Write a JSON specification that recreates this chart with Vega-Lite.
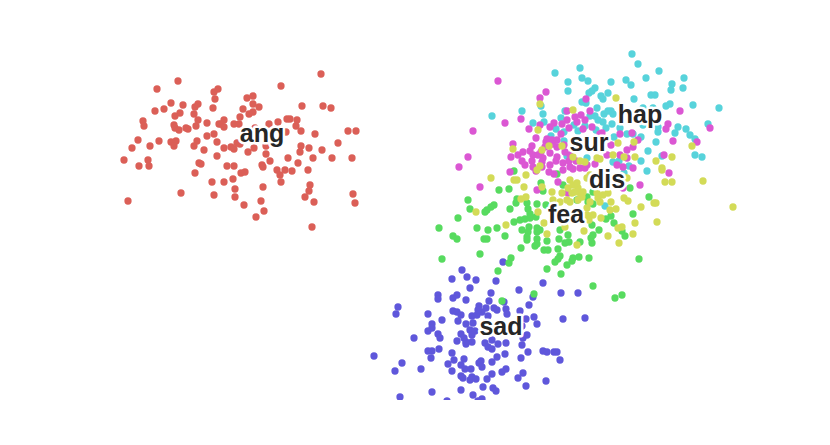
{"$schema":"https://vega.github.io/schema/vega-lite/v6.json","width":830,"height":400,"padding":0,"autosize":"none","background":"white","config":{"view":{"stroke":null}},
"datasets":{"labels":[{"e":"ang","x":26.2,"y":26.6},{"e":"hap","x":64.0,"y":28.5},{"e":"sur","x":58.9,"y":25.7},{"e":"dis","x":60.7,"y":22.0},{"e":"fea","x":56.6,"y":18.5},{"e":"sad","x":50.1,"y":7.3}],
"points":[
{"e":"sad","x":50.3,"y":13.8},{"e":"sad","x":46.2,"y":13},{"e":"sad","x":46.7,"y":12.3},{"e":"sad","x":45.2,"y":12.1},{"e":"sad","x":47.6,"y":12},{"e":"sad","x":49.6,"y":11.9},{"e":"sad","x":54.3,"y":11.7},{"e":"sad","x":47,"y":11.2},{"e":"sad","x":51.9,"y":11},{"e":"sad","x":49.1,"y":10.7},{"e":"sad","x":43.8,"y":10.5},{"e":"sad","x":43.8,"y":10.1},{"e":"sad","x":45.3,"y":10.2},{"e":"sad","x":45.7,"y":10.5},{"e":"sad","x":46.6,"y":10},{"e":"sad","x":48.9,"y":9.9},{"e":"sad","x":50.4,"y":9.8},{"e":"sad","x":53.3,"y":10.3},{"e":"sad","x":56.1,"y":10.7},{"e":"sad","x":57.8,"y":10.7},{"e":"sad","x":52.9,"y":9.5},{"e":"sad","x":39.8,"y":9.3},{"e":"sad","x":39.6,"y":8.6},{"e":"sad","x":42.8,"y":8.6},{"e":"sad","x":45.3,"y":8.9},{"e":"sad","x":45.7,"y":8.8},{"e":"sad","x":46.1,"y":8.5},{"e":"sad","x":47.9,"y":9.4},{"e":"sad","x":48.6,"y":9.2},{"e":"sad","x":49.4,"y":9.2},{"e":"sad","x":49.7,"y":9},{"e":"sad","x":50.6,"y":9.1},{"e":"sad","x":50.7,"y":8.6},{"e":"sad","x":52,"y":8.9},{"e":"sad","x":47.2,"y":8.4},{"e":"sad","x":47.7,"y":8.5},{"e":"sad","x":48.2,"y":8.8},{"e":"sad","x":47.8,"y":9},{"e":"sad","x":48.8,"y":8.4},{"e":"sad","x":44.2,"y":8},{"e":"sad","x":45.8,"y":7.9},{"e":"sad","x":46.6,"y":7.6},{"e":"sad","x":47.3,"y":7.7},{"e":"sad","x":52.6,"y":8.1},{"e":"sad","x":53.4,"y":8.3},{"e":"sad","x":53.7,"y":7.6},{"e":"sad","x":56.3,"y":8.1},{"e":"sad","x":58.5,"y":8.2},{"e":"sad","x":43.2,"y":7.6},{"e":"sad","x":43.2,"y":7.2},{"e":"sad","x":42.8,"y":6.9},{"e":"sad","x":43.8,"y":6.6},{"e":"sad","x":44,"y":6.2},{"e":"sad","x":41.4,"y":6.2},{"e":"sad","x":46.1,"y":6.6},{"e":"sad","x":46.4,"y":6.2},{"e":"sad","x":47,"y":7},{"e":"sad","x":47.5,"y":6.9},{"e":"sad","x":47.2,"y":6.5},{"e":"sad","x":45.7,"y":5.9},{"e":"sad","x":46.6,"y":5.8},{"e":"sad","x":46.6,"y":5.6},{"e":"sad","x":47.2,"y":5.8},{"e":"sad","x":48.5,"y":5.7},{"e":"sad","x":48.8,"y":5.3},{"e":"sad","x":49.2,"y":5.1},{"e":"sad","x":49.2,"y":6},{"e":"sad","x":49.8,"y":5.6},{"e":"sad","x":50.6,"y":5.7},{"e":"sad","x":52.2,"y":5.5},{"e":"sad","x":52.3,"y":6.2},{"e":"sad","x":52.7,"y":6.5},{"e":"sad","x":52.2,"y":7.4},{"e":"sad","x":43.9,"y":5.1},{"e":"sad","x":42.8,"y":4.9},{"e":"sad","x":43.2,"y":4.9},{"e":"sad","x":45.2,"y":4.7},{"e":"sad","x":52.8,"y":4.8},{"e":"sad","x":54.3,"y":4.9},{"e":"sad","x":54.7,"y":4.8},{"e":"sad","x":55.4,"y":4.8},{"e":"sad","x":55.7,"y":4.8},{"e":"sad","x":56,"y":4},{"e":"sad","x":37.4,"y":4.4},{"e":"sad","x":43.1,"y":4.2},{"e":"sad","x":45.4,"y":4},{"e":"sad","x":46.4,"y":4.1},{"e":"sad","x":50.5,"y":4.6},{"e":"sad","x":49.7,"y":4.3},{"e":"sad","x":49.2,"y":3.8},{"e":"sad","x":52.1,"y":4.2},{"e":"sad","x":40.2,"y":3.7},{"e":"sad","x":39.5,"y":2.9},{"e":"sad","x":42.1,"y":3.1},{"e":"sad","x":44.8,"y":3.6},{"e":"sad","x":45.2,"y":2.9},{"e":"sad","x":46.1,"y":3.5},{"e":"sad","x":46.5,"y":3.1},{"e":"sad","x":47.1,"y":3.1},{"e":"sad","x":48.1,"y":3.9},{"e":"sad","x":47.9,"y":3.7},{"e":"sad","x":48.2,"y":3.3},{"e":"sad","x":50.6,"y":3.1},{"e":"sad","x":50.2,"y":2.8},{"e":"sad","x":49.2,"y":2.6},{"e":"sad","x":52.3,"y":2.7},{"e":"sad","x":51.8,"y":2.2},{"e":"sad","x":48.7,"y":2.1},{"e":"sad","x":46.1,"y":2.4},{"e":"sad","x":46.3,"y":2.2},{"e":"sad","x":47.2,"y":2.3},{"e":"sad","x":47,"y":2},{"e":"sad","x":47.6,"y":2.1},{"e":"sad","x":48.3,"y":1.3},{"e":"sad","x":49.3,"y":1.2},{"e":"sad","x":49.6,"y":0.9},{"e":"sad","x":52.6,"y":1.4},{"e":"sad","x":54.6,"y":1.9},{"e":"sad","x":46.1,"y":1},{"e":"sad","x":43.2,"y":0.8},{"e":"sad","x":47.3,"y":0.5},{"e":"sad","x":40,"y":0.3},{"e":"sad","x":44.7,"y":-0.1},{"e":"sad","x":48.2,"y":0.1},{"e":"sad","x":47.8,"y":-0.1},
{"e":"ang","x":32.1,"y":32.6},{"e":"ang","x":17.8,"y":31.9},{"e":"ang","x":28.1,"y":31.4},{"e":"ang","x":15.7,"y":31.1},{"e":"ang","x":21.8,"y":31.1},{"e":"ang","x":21.4,"y":30.8},{"e":"ang","x":25.3,"y":30.4},{"e":"ang","x":24.7,"y":30.2},{"e":"ang","x":21.5,"y":30.1},{"e":"ang","x":17.1,"y":29.7},{"e":"ang","x":18.3,"y":29.5},{"e":"ang","x":19.8,"y":29.6},{"e":"ang","x":19.5,"y":29.3},{"e":"ang","x":16.4,"y":29.1},{"e":"ang","x":15.5,"y":28.9},{"e":"ang","x":25.3,"y":29.6},{"e":"ang","x":25.9,"y":29.3},{"e":"ang","x":24.3,"y":29.1},{"e":"ang","x":21.3,"y":29.2},{"e":"ang","x":30.2,"y":29.4},{"e":"ang","x":32.3,"y":29.4},{"e":"ang","x":33.1,"y":29.2},{"e":"ang","x":18,"y":28.7},{"e":"ang","x":17.5,"y":28.4},{"e":"ang","x":19.4,"y":28.6},{"e":"ang","x":25.3,"y":28.8},{"e":"ang","x":24.9,"y":28.6},{"e":"ang","x":24,"y":28.3},{"e":"ang","x":19.8,"y":28},{"e":"ang","x":14.3,"y":27.9},{"e":"ang","x":14.4,"y":27.4},{"e":"ang","x":17.4,"y":27.5},{"e":"ang","x":17.5,"y":27.2},{"e":"ang","x":17.9,"y":27},{"e":"ang","x":18.6,"y":27.2},{"e":"ang","x":18.8,"y":27.1},{"e":"ang","x":19.6,"y":27.4},{"e":"ang","x":20.7,"y":27.7},{"e":"ang","x":21.9,"y":27.6},{"e":"ang","x":22.4,"y":28},{"e":"ang","x":22.1,"y":27.6},{"e":"ang","x":22.4,"y":27.3},{"e":"ang","x":23.4,"y":27.6},{"e":"ang","x":23.9,"y":27.6},{"e":"ang","x":26.9,"y":27.6},{"e":"ang","x":27.8,"y":27.8},{"e":"ang","x":28.7,"y":28.1},{"e":"ang","x":29,"y":28.1},{"e":"ang","x":29.7,"y":28},{"e":"ang","x":29.6,"y":27.4},{"e":"ang","x":30.1,"y":26.9},{"e":"ang","x":28.6,"y":26.8},{"e":"ang","x":31.5,"y":26.6},{"e":"ang","x":34.8,"y":26.9},{"e":"ang","x":35.6,"y":26.9},{"e":"ang","x":33.8,"y":25.7},{"e":"ang","x":20.7,"y":26.4},{"e":"ang","x":21.4,"y":26.6},{"e":"ang","x":21.7,"y":25.8},{"e":"ang","x":19.7,"y":25.9},{"e":"ang","x":19.4,"y":25.4},{"e":"ang","x":15.9,"y":25.9},{"e":"ang","x":13.8,"y":26},{"e":"ang","x":13.2,"y":25.2},{"e":"ang","x":15,"y":25.4},{"e":"ang","x":17.1,"y":25.8},{"e":"ang","x":17.6,"y":25.9},{"e":"ang","x":17.4,"y":25.4},{"e":"ang","x":20.4,"y":25},{"e":"ang","x":22.4,"y":25.2},{"e":"ang","x":23.1,"y":25.3},{"e":"ang","x":23.4,"y":25.1},{"e":"ang","x":23.7,"y":25.7},{"e":"ang","x":24.8,"y":24.8},{"e":"ang","x":25.4,"y":25.2},{"e":"ang","x":26.6,"y":25.4},{"e":"ang","x":26.6,"y":24.6},{"e":"ang","x":21.7,"y":24.4},{"e":"ang","x":12.4,"y":24},{"e":"ang","x":14.8,"y":24},{"e":"ang","x":14.9,"y":23.4},{"e":"ang","x":13.9,"y":23.4},{"e":"ang","x":19.9,"y":23.7},{"e":"ang","x":20.1,"y":23.6},{"e":"ang","x":22.7,"y":23.4},{"e":"ang","x":23.4,"y":23.4},{"e":"ang","x":26.2,"y":23.5},{"e":"ang","x":26.3,"y":23.3},{"e":"ang","x":27,"y":23.9},{"e":"ang","x":28.8,"y":24.2},{"e":"ang","x":30.1,"y":25.4},{"e":"ang","x":30,"y":24.8},{"e":"ang","x":30.9,"y":25.2},{"e":"ang","x":31.3,"y":24.2},{"e":"ang","x":32.2,"y":25},{"e":"ang","x":33.2,"y":24.2},{"e":"ang","x":35.2,"y":24.2},{"e":"ang","x":29.8,"y":23.7},{"e":"ang","x":30.8,"y":23},{"e":"ang","x":29.2,"y":22.9},{"e":"ang","x":28.5,"y":23},{"e":"ang","x":27.7,"y":23},{"e":"ang","x":28,"y":22.5},{"e":"ang","x":28.1,"y":21.8},{"e":"ang","x":19.5,"y":22.7},{"e":"ang","x":24.1,"y":22.7},{"e":"ang","x":24.5,"y":22.8},{"e":"ang","x":23.3,"y":22.1},{"e":"ang","x":21.2,"y":21.8},{"e":"ang","x":22.4,"y":21.8},{"e":"ang","x":23.5,"y":21.1},{"e":"ang","x":23.5,"y":20.3},{"e":"ang","x":21.4,"y":20.5},{"e":"ang","x":18.1,"y":20.7},{"e":"ang","x":12.8,"y":19.9},{"e":"ang","x":26.3,"y":21.3},{"e":"ang","x":26.1,"y":19.9},{"e":"ang","x":24.4,"y":19.5},{"e":"ang","x":26.4,"y":18.9},{"e":"ang","x":25.6,"y":18.3},{"e":"ang","x":31,"y":21.5},{"e":"ang","x":30.9,"y":20.9},{"e":"ang","x":30.5,"y":20.3},{"e":"ang","x":31.4,"y":19.8},{"e":"ang","x":35.3,"y":20.6},{"e":"ang","x":35.5,"y":19.7},{"e":"ang","x":31.2,"y":17.3},{"e":"ang","x":25.5,"y":27.2},{"e":"ang","x":24.7,"y":26.2},{"e":"ang","x":24,"y":25.6},
{"e":"fea","x":51.4,"y":22.9},{"e":"fea","x":55.7,"y":22.6},{"e":"fea","x":56.3,"y":21.5},{"e":"fea","x":54.1,"y":21.7},{"e":"fea","x":54.3,"y":20.9},{"e":"fea","x":50.9,"y":21.1},{"e":"fea","x":49.9,"y":21},{"e":"fea","x":46.8,"y":20},{"e":"fea","x":47,"y":19.1},{"e":"fea","x":49.4,"y":19.5},{"e":"fea","x":49.1,"y":19.3},{"e":"fea","x":48.7,"y":19},{"e":"fea","x":48.5,"y":18.8},{"e":"fea","x":51,"y":19.1},{"e":"fea","x":45.8,"y":18.2},{"e":"fea","x":43.9,"y":17.2},{"e":"fea","x":45.3,"y":16.4},{"e":"fea","x":45.7,"y":16.1},{"e":"fea","x":47.7,"y":17.2},{"e":"fea","x":48.8,"y":17},{"e":"fea","x":49.7,"y":17.2},{"e":"fea","x":48.4,"y":16.1},{"e":"fea","x":48.7,"y":16.1},{"e":"fea","x":50.5,"y":16.4},{"e":"fea","x":52.2,"y":17},{"e":"fea","x":51.4,"y":17.8},{"e":"fea","x":52,"y":18},{"e":"fea","x":52.5,"y":18.1},{"e":"fea","x":53,"y":18.2},{"e":"fea","x":53.6,"y":18.3},{"e":"fea","x":51.7,"y":20.1},{"e":"fea","x":51.6,"y":19.7},{"e":"fea","x":52.7,"y":19.7},{"e":"fea","x":53.7,"y":19.6},{"e":"fea","x":54.6,"y":19.5},{"e":"fea","x":52.8,"y":19.1},{"e":"fea","x":53,"y":18.6},{"e":"fea","x":52.9,"y":17.3},{"e":"fea","x":52.8,"y":16.8},{"e":"fea","x":53.7,"y":17.2},{"e":"fea","x":54,"y":17},{"e":"fea","x":53.7,"y":16.8},{"e":"fea","x":52.7,"y":16.3},{"e":"fea","x":52.7,"y":16},{"e":"fea","x":53.7,"y":16.1},{"e":"fea","x":54.7,"y":15.9},{"e":"fea","x":56,"y":17},{"e":"fea","x":55.9,"y":16.1},{"e":"fea","x":56.8,"y":16.5},{"e":"fea","x":56.9,"y":15.8},{"e":"fea","x":56.5,"y":15.7},{"e":"fea","x":58,"y":15.8},{"e":"fea","x":59.2,"y":15.7},{"e":"fea","x":59.1,"y":16.2},{"e":"fea","x":59.3,"y":16.5},{"e":"fea","x":59.9,"y":17},{"e":"fea","x":59.2,"y":17.5},{"e":"fea","x":61.4,"y":17.7},{"e":"fea","x":60.6,"y":18.1},{"e":"fea","x":61.1,"y":18.4},{"e":"fea","x":63.3,"y":18.6},{"e":"fea","x":64.9,"y":20.3},{"e":"fea","x":63,"y":21.2},{"e":"fea","x":62.2,"y":16.9},{"e":"fea","x":62.5,"y":16.4},{"e":"fea","x":59.3,"y":20.8},{"e":"fea","x":58.8,"y":19.8},{"e":"fea","x":59.3,"y":19.6},{"e":"fea","x":57.7,"y":20},{"e":"fea","x":58.7,"y":20.3},{"e":"fea","x":52.1,"y":15.2},{"e":"fea","x":53.5,"y":15.4},{"e":"fea","x":53.7,"y":15.6},{"e":"fea","x":54.4,"y":15},{"e":"fea","x":54.8,"y":15},{"e":"fea","x":55.8,"y":15.1},{"e":"fea","x":56,"y":14.4},{"e":"fea","x":55.8,"y":14.1},{"e":"fea","x":55.5,"y":13.8},{"e":"fea","x":57.3,"y":14.2},{"e":"fea","x":57.2,"y":13.9},{"e":"fea","x":57.9,"y":14.3},{"e":"fea","x":56.7,"y":13.5},{"e":"fea","x":58.9,"y":14.2},{"e":"fea","x":63.9,"y":14.1},{"e":"fea","x":54.7,"y":13.1},{"e":"fea","x":56.1,"y":12.6},{"e":"fea","x":48,"y":14.6},{"e":"fea","x":44.2,"y":14.1},{"e":"fea","x":51.1,"y":14.2},{"e":"fea","x":50.9,"y":13.7},{"e":"fea","x":49.8,"y":12.9},{"e":"fea","x":59.3,"y":11.4},{"e":"fea","x":53.4,"y":10.6},{"e":"fea","x":50.2,"y":9.9},{"e":"fea","x":61.5,"y":10.2},{"e":"fea","x":62.2,"y":10.5},
{"e":"hap","x":63.2,"y":34.6},{"e":"hap","x":63.8,"y":33.6},{"e":"hap","x":58,"y":33.2},{"e":"hap","x":55.5,"y":32.7},{"e":"hap","x":65.9,"y":32.9},{"e":"hap","x":64.6,"y":32.2},{"e":"hap","x":58.2,"y":32.2},{"e":"hap","x":58.8,"y":31.9},{"e":"hap","x":56.8,"y":31.8},{"e":"hap","x":61.1,"y":31.8},{"e":"hap","x":62.6,"y":32},{"e":"hap","x":63.1,"y":31.5},{"e":"hap","x":68.4,"y":32.2},{"e":"hap","x":67.2,"y":31.6},{"e":"hap","x":67.1,"y":31},{"e":"hap","x":68.3,"y":31.2},{"e":"hap","x":56.8,"y":30.9},{"e":"hap","x":59.5,"y":31.2},{"e":"hap","x":59.2,"y":30.9},{"e":"hap","x":58.9,"y":30.7},{"e":"hap","x":60.8,"y":30.7},{"e":"hap","x":60.1,"y":30.4},{"e":"hap","x":60.3,"y":30.1},{"e":"hap","x":65.1,"y":30.5},{"e":"hap","x":65.5,"y":30.5},{"e":"hap","x":63.4,"y":30.1},{"e":"hap","x":66.6,"y":29.4},{"e":"hap","x":67,"y":29.6},{"e":"hap","x":69.3,"y":29.5},{"e":"hap","x":71.9,"y":29.2},{"e":"hap","x":58.2,"y":29.8},{"e":"hap","x":58.6,"y":29.7},{"e":"hap","x":54.1,"y":29.4},{"e":"hap","x":52.2,"y":28.9},{"e":"hap","x":49.2,"y":28.4},{"e":"hap","x":54.3,"y":28.6},{"e":"hap","x":54.4,"y":27.8},{"e":"hap","x":53.3,"y":27.7},{"e":"hap","x":56.5,"y":28.9},{"e":"hap","x":59.7,"y":29.2},{"e":"hap","x":59,"y":28.4},{"e":"hap","x":59.5,"y":28.4},{"e":"hap","x":60.3,"y":27.8},{"e":"hap","x":61.3,"y":28.6},{"e":"hap","x":61.1,"y":28.9},{"e":"hap","x":64.3,"y":29.2},{"e":"hap","x":65.3,"y":29.2},{"e":"hap","x":56.1,"y":28.2},{"e":"hap","x":57.4,"y":27.5},{"e":"hap","x":55.6,"y":27.1},{"e":"hap","x":56.4,"y":26.8},{"e":"hap","x":57.8,"y":26.9},{"e":"hap","x":55.1,"y":26.4},{"e":"hap","x":56.4,"y":25.9},{"e":"hap","x":62,"y":27.2},{"e":"hap","x":62.7,"y":26.6},{"e":"hap","x":63.3,"y":26.6},{"e":"hap","x":64.1,"y":26.3},{"e":"hap","x":61.4,"y":26.3},{"e":"hap","x":64.3,"y":27.5},{"e":"hap","x":65.8,"y":27.3},{"e":"hap","x":65.8,"y":26.8},{"e":"hap","x":67.8,"y":27.3},{"e":"hap","x":67.5,"y":26.7},{"e":"hap","x":68.6,"y":27.1},{"e":"hap","x":69,"y":26.5},{"e":"hap","x":69.5,"y":26.1},{"e":"hap","x":70.8,"y":27.6},{"e":"hap","x":65.6,"y":25.8},{"e":"hap","x":64.8,"y":24.9},{"e":"hap","x":69.5,"y":24.5},{"e":"hap","x":70.2,"y":24.3},{"e":"hap","x":66.2,"y":24.4},{"e":"hap","x":64.1,"y":23.9},{"e":"hap","x":61.9,"y":23.9},{"e":"hap","x":62.9,"y":23.4},{"e":"hap","x":58.7,"y":24.2},{"e":"hap","x":56.7,"y":24.4},{"e":"hap","x":64.7,"y":22.9},{"e":"hap","x":62.4,"y":22.7},{"e":"hap","x":60.5,"y":19.4},{"e":"hap","x":61.3,"y":23.8},{"e":"hap","x":60.8,"y":28.9},{"e":"hap","x":60.4,"y":28.6},{"e":"hap","x":59.8,"y":28},{"e":"hap","x":60.6,"y":27.2},{"e":"hap","x":59.6,"y":27},{"e":"hap","x":58.5,"y":27.4},{"e":"hap","x":61.2,"y":27.6},
{"e":"sur","x":49.8,"y":31.9},{"e":"sur","x":54.6,"y":30.8},{"e":"sur","x":54,"y":30.2},{"e":"sur","x":58.6,"y":30.1},{"e":"sur","x":68,"y":28.9},{"e":"sur","x":50.5,"y":27.7},{"e":"sur","x":52.1,"y":28.1},{"e":"sur","x":47.3,"y":26.9},{"e":"sur","x":52.9,"y":27.1},{"e":"sur","x":54,"y":27.5},{"e":"sur","x":55.4,"y":27.7},{"e":"sur","x":55,"y":27.3},{"e":"sur","x":56.7,"y":28.9},{"e":"sur","x":58.1,"y":28.5},{"e":"sur","x":59,"y":28.9},{"e":"sur","x":57.5,"y":28.3},{"e":"sur","x":56.7,"y":28},{"e":"sur","x":56.2,"y":27.6},{"e":"sur","x":58.5,"y":28},{"e":"sur","x":59.2,"y":27.3},{"e":"sur","x":66.8,"y":27.6},{"e":"sur","x":66.6,"y":27.1},{"e":"sur","x":71,"y":27.2},{"e":"sur","x":67.3,"y":25.9},{"e":"sur","x":69.7,"y":25.8},{"e":"sur","x":53.6,"y":26.2},{"e":"sur","x":51.3,"y":25.6},{"e":"sur","x":54.7,"y":26.1},{"e":"sur","x":55.2,"y":26},{"e":"sur","x":53.2,"y":25.4},{"e":"sur","x":54.5,"y":25.3},{"e":"sur","x":53,"y":24.9},{"e":"sur","x":55.7,"y":26},{"e":"sur","x":55.7,"y":25.3},{"e":"sur","x":55,"y":24.7},{"e":"sur","x":55.7,"y":24.3},{"e":"sur","x":54.3,"y":24.2},{"e":"sur","x":53.3,"y":24.5},{"e":"sur","x":51.8,"y":24.5},{"e":"sur","x":51.1,"y":24.3},{"e":"sur","x":46.8,"y":24.3},{"e":"sur","x":45.9,"y":23.3},{"e":"sur","x":52.2,"y":23.9},{"e":"sur","x":53.2,"y":23.9},{"e":"sur","x":52.5,"y":23.5},{"e":"sur","x":54.2,"y":23.8},{"e":"sur","x":55,"y":23.5},{"e":"sur","x":57,"y":24.5},{"e":"sur","x":56.3,"y":23.7},{"e":"sur","x":57.6,"y":23.9},{"e":"sur","x":57,"y":23.3},{"e":"sur","x":58.7,"y":23.5},{"e":"sur","x":59.5,"y":23.6},{"e":"sur","x":58,"y":23.2},{"e":"sur","x":61.1,"y":25.5},{"e":"sur","x":60,"y":26.6},{"e":"sur","x":62,"y":26.6},{"e":"sur","x":63.2,"y":26.7},{"e":"sur","x":63.8,"y":26},{"e":"sur","x":63.3,"y":25.3},{"e":"sur","x":62.7,"y":25},{"e":"sur","x":62,"y":24.5},{"e":"sur","x":60.7,"y":24.5},{"e":"sur","x":62.7,"y":24.2},{"e":"sur","x":66.4,"y":24.5},{"e":"sur","x":61.7,"y":23.5},{"e":"sur","x":59.3,"y":26},{"e":"sur","x":60.2,"y":26.7},{"e":"sur","x":62.3,"y":23.3},{"e":"sur","x":51,"y":22.8},{"e":"sur","x":48,"y":21.3},{"e":"sur","x":66.9,"y":22.7},{"e":"sur","x":64,"y":21.5},{"e":"sur","x":63.3,"y":23.2},{"e":"sur","x":53.7,"y":21},{"e":"sur","x":55.8,"y":21.8},{"e":"sur","x":54.9,"y":22.8},{"e":"sur","x":56.3,"y":23},{"e":"sur","x":57.3,"y":23.1},{"e":"sur","x":58.5,"y":23.2},{"e":"sur","x":53.3,"y":23.3},{"e":"sur","x":54.2,"y":23.3},{"e":"sur","x":56.8,"y":20.7},{"e":"sur","x":62.3,"y":21.2},{"e":"sur","x":56.1,"y":26.6},{"e":"sur","x":56.9,"y":27.2},{"e":"sur","x":57.7,"y":27.8},{"e":"sur","x":58.3,"y":27.1},{"e":"sur","x":55.3,"y":25.6},{"e":"sur","x":56.4,"y":25.5},{"e":"sur","x":54.1,"y":24.8},{"e":"sur","x":52.3,"y":24.8},{"e":"sur","x":56.5,"y":24.8},{"e":"sur","x":55.6,"y":23.9},{"e":"sur","x":53.6,"y":22.9},{"e":"sur","x":55.4,"y":22.6},{"e":"sur","x":56.9,"y":23.9},{"e":"sur","x":54.6,"y":25.8},{"e":"sur","x":53.8,"y":24.5},
{"e":"dis","x":61.6,"y":30.2},{"e":"dis","x":57.3,"y":29},{"e":"dis","x":54,"y":29.6},{"e":"dis","x":53.8,"y":27},{"e":"dis","x":51.3,"y":25.1},{"e":"dis","x":56.2,"y":25.4},{"e":"dis","x":54.9,"y":25.4},{"e":"dis","x":54.2,"y":25},{"e":"dis","x":63.4,"y":25.8},{"e":"dis","x":61.8,"y":25.7},{"e":"dis","x":69.2,"y":25.4},{"e":"dis","x":67.2,"y":24.3},{"e":"dis","x":63.5,"y":24.3},{"e":"dis","x":62.4,"y":24.3},{"e":"dis","x":61.3,"y":24.5},{"e":"dis","x":65.6,"y":23.9},{"e":"dis","x":60,"y":24.1},{"e":"dis","x":58.5,"y":23.8},{"e":"dis","x":58,"y":23.9},{"e":"dis","x":57.3,"y":24.3},{"e":"dis","x":54,"y":23.4},{"e":"dis","x":59.7,"y":24.2},{"e":"dis","x":66.2,"y":23.2},{"e":"dis","x":66.2,"y":23},{"e":"dis","x":66.5,"y":21.8},{"e":"dis","x":67.2,"y":21.8},{"e":"dis","x":70.3,"y":21.9},{"e":"dis","x":73.3,"y":19.3},{"e":"dis","x":49.1,"y":22.2},{"e":"dis","x":52.6,"y":22.5},{"e":"dis","x":51.4,"y":22},{"e":"dis","x":51.7,"y":22},{"e":"dis","x":52.4,"y":21.3},{"e":"dis","x":53.7,"y":23},{"e":"dis","x":47.6,"y":18.8},{"e":"dis","x":50.6,"y":17.5},{"e":"dis","x":53.8,"y":18.8},{"e":"dis","x":54.4,"y":17.7},{"e":"dis","x":54.7,"y":16.6},{"e":"dis","x":57.7,"y":15.5},{"e":"dis","x":60.8,"y":16.4},{"e":"dis","x":61.9,"y":15.7},{"e":"dis","x":63.3,"y":16.6},{"e":"dis","x":62.2,"y":17.3},{"e":"dis","x":61.8,"y":17.2},{"e":"dis","x":63.5,"y":17.7},{"e":"dis","x":65.7,"y":17.8},{"e":"dis","x":65.4,"y":19.7},{"e":"dis","x":65.6,"y":19.7},{"e":"dis","x":64.1,"y":19.3},{"e":"dis","x":62.8,"y":19.9},{"e":"dis","x":62.4,"y":20.2},{"e":"dis","x":61.1,"y":19.8},{"e":"dis","x":61.6,"y":19.1},{"e":"dis","x":61,"y":19},{"e":"dis","x":60.1,"y":18.2},{"e":"dis","x":58.4,"y":16.9},{"e":"dis","x":56.5,"y":17.3},{"e":"dis","x":58.7,"y":19.2},{"e":"dis","x":59.3,"y":18.5},{"e":"dis","x":58.9,"y":18},{"e":"dis","x":55.2,"y":20.8},{"e":"dis","x":52.6,"y":20.3},{"e":"dis","x":52.1,"y":20.1},{"e":"dis","x":56.2,"y":20.7},{"e":"dis","x":57,"y":22},{"e":"dis","x":57.3,"y":21.5},{"e":"dis","x":57.8,"y":21.2},{"e":"dis","x":58.3,"y":20.8},{"e":"dis","x":57.2,"y":20.7},{"e":"dis","x":58.2,"y":20.3},{"e":"dis","x":56.7,"y":20},{"e":"dis","x":56,"y":19.8},{"e":"dis","x":59.8,"y":20.2},{"e":"dis","x":60,"y":19.8},{"e":"dis","x":60.8,"y":20.7},{"e":"dis","x":59.7,"y":20.7},{"e":"dis","x":58.7,"y":22.2},{"e":"dis","x":59,"y":22.5},{"e":"dis","x":57.7,"y":21.7},{"e":"dis","x":57,"y":19.8},{"e":"dis","x":55.3,"y":20},{"e":"dis","x":57.8,"y":20},{"e":"dis","x":59,"y":19.8},{"e":"dis","x":58.7,"y":18.5},{"e":"dis","x":58,"y":20.7},{"e":"dis","x":54.2,"y":21.3},{"e":"dis","x":56.8,"y":21.2},{"e":"dis","x":57.5,"y":20.8},{"e":"dis","x":60.3,"y":20.5},{"e":"dis","x":62.7,"y":22.2}
]},
"layer":[
{"data":{"name":"points"},"mark":{"type":"circle","size":53,"opacity":1,"clip":true},"encoding":{"x":{"field":"x","type":"quantitative","scale":{"domain":[0,83],"nice":false},"axis":null},"y":{"field":"y","type":"quantitative","scale":{"domain":[0,40],"nice":false},"axis":null},"color":{"field":"e","type":"nominal","legend":null,"scale":{"domain":["ang","dis","fea","hap","sad","sur"],"range":["#db5f57","#d3db57","#57db5f","#57d3db","#5f57db","#db57d3"]}}}},
{"data":{"name":"labels"},"mark":{"type":"text","font":"Liberation Sans","fontWeight":"bold","fontSize":25,"align":"center","baseline":"middle","stroke":"white","strokeWidth":5,"strokeJoin":"round","fill":"white"},"encoding":{"x":{"field":"x","type":"quantitative"},"y":{"field":"y","type":"quantitative"},"text":{"field":"e"}}},
{"data":{"name":"labels"},"mark":{"type":"text","font":"Liberation Sans","fontWeight":"bold","fontSize":25,"align":"center","baseline":"middle","fill":"#262626"},"encoding":{"x":{"field":"x","type":"quantitative"},"y":{"field":"y","type":"quantitative"},"text":{"field":"e"}}}
]}
